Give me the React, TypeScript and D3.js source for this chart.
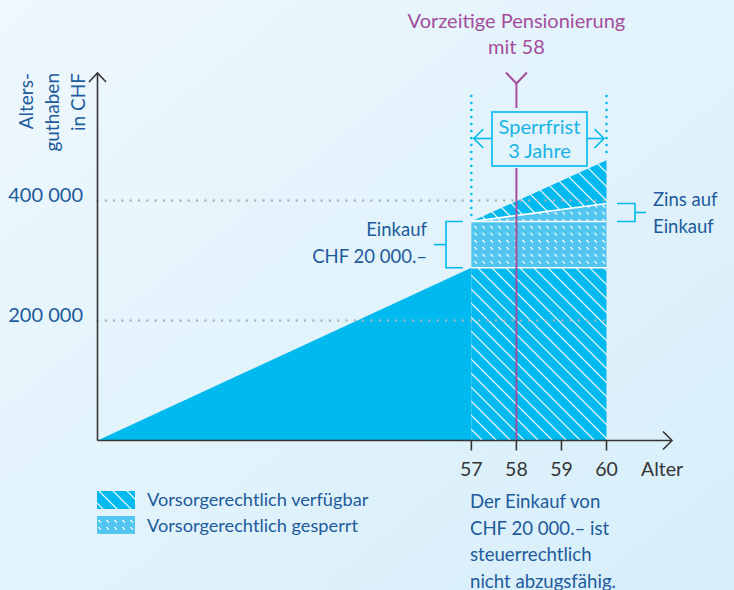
import React from "react";
import * as d3 from "d3";

// ---- data ----
const ageTicks = [57, 58, 59, 60];
const valueTicks = [200000, 400000];
const rampAges = [48.7, 57];
const rampValues = [0, 288000];
const lockAges = [57, 60];
const availableBase = [288000, 288000];
const purchaseTop = [365000, 365000];
const purchaseInterestTop = [365000, 395000];
const totalTop = [365000, 467000];
const retirementAge = 58;
const lockStart = 57;
const lockEnd = 60;
const titleLines = ["Vorzeitige Pensionierung", "mit 58"];
const yLabelLines = ["Alters-", "guthaben", "in CHF"];
const lockLabel = ["Sperrfrist", "3 Jahre"];
const purchaseLabel = ["Einkauf", "CHF 20\u00a0000.\u2013"];
const interestLabel = ["Zins auf", "Einkauf"];
const legendItems = ["Vorsorgerechtlich verfügbar", "Vorsorgerechtlich gesperrt"];
const noteLines = ["Der Einkauf von", "CHF 20\u00a0000.\u2013 ist", "steuerrechtlich", "nicht abzugsfähig."];
const xAxisTitle = "Alter";

const W = 734;
const H = 590;
const FONT = "Lato, 'Noto Sans', sans-serif";
const BLUE = "#1d5b9c";
const CYAN = "#00b9ee";
const CYAN_LIGHT = "#52c6f1";
const MAGENTA = "#a34d9c";
const DARK = "#353535";
const GRAY_DOT = "#a9b2b8";

const x = d3.scaleLinear().domain([rampAges[0], 60]).range([97.5, 606.5]);
const y = d3.scaleLinear().domain([0, 400000]).range([440.5, 200.5]);
const fmt = d3.formatLocale({ thousands: "\u00a0", grouping: [3], decimal: ".", currency: ["", ""] }).format(",");

export default function App() {
  const ramp = d3
    .area<number>()
    .x((_, i) => x(rampAges[i]))
    .y0(() => y(0))
    .y1((d) => y(d))(rampValues);
  const band = (lo: number[], hi: number[]) =>
    d3
      .area<number>()
      .x((_, i) => x(lockAges[i]))
      .y0((_, i) => y(lo[i]))
      .y1((_, i) => y(hi[i]))(lockAges.map((_, i) => i));
  const zeros = lockAges.map(() => 0);
  const baseRect = band(zeros, availableBase);
  const purchase = band(availableBase, purchaseTop);
  const interest = band(purchaseTop, purchaseInterestTop);
  const growth = band(purchaseInterestTop, totalTop);
  const line = d3
    .line<number>()
    .x((_, i) => x(lockAges[i]))
    .y((d) => y(d));

  const x0 = x(rampAges[0]);
  const xAxisEnd = 672;
  const yAxisTop = 73;
  const xs = x(lockStart);
  const xe = x(lockEnd);
  const xr = x(retirementAge);
  const boxL = 492;
  const boxR = 587;
  const boxT = 112;
  const boxB = 166;
  const arrowY = 138.5;

  const pTop = y(purchaseTop[0]);
  const pBot = y(availableBase[0]);
  const iTop = y(purchaseInterestTop[1]);
  const iBot = y(purchaseTop[1]);

  return (
    <div style={{ position: "absolute", left: 0, top: 0 }}>
      <svg width={W} height={H} style={{ display: "block" }} fontFamily={FONT}>
        <defs>
          <linearGradient id="bg" x1="0" y1="0" x2="1" y2="1">
            <stop offset="0" stopColor="#eef8fd" />
            <stop offset="1" stopColor="#d6eefa" />
          </linearGradient>
          <pattern id="avail" patternUnits="userSpaceOnUse" width="14" height="14">
            <rect width="14" height="14" fill={CYAN} />
            <path d="M0,0L14,14M-2,12L2,16M12,-2L16,2" stroke="#fff" strokeWidth="1.2" />
          </pattern>
          <pattern id="locked" patternUnits="userSpaceOnUse" width="8" height="7">
            <rect width="8" height="7" fill={CYAN_LIGHT} />
            <path d="M2.5,2L5,4.6" stroke="#fff" strokeWidth="1.1" />
          </pattern>
        </defs>
        <rect width={W} height={H} fill="url(#bg)" />

        {/* areas */}
        <path d={ramp ?? ""} fill={CYAN} />
        <path d={baseRect ?? ""} fill="url(#avail)" />
        <path d={purchase ?? ""} fill="url(#locked)" />
        <path d={interest ?? ""} fill="url(#locked)" />
        <path d={growth ?? ""} fill="url(#avail)" />
        {[availableBase, purchaseTop, purchaseInterestTop].map((s, i) => (
          <path key={i} d={line(s) ?? ""} stroke="#fff" strokeWidth={1.6} fill="none" />
        ))}

        {/* gridlines */}
        {valueTicks.map((v) => (
          <line
            key={v}
            x1={x0}
            x2={xe}
            y1={y(v)}
            y2={y(v)}
            stroke={GRAY_DOT}
            strokeWidth={2.4}
            strokeLinecap="round"
            strokeDasharray="0 8.3"
          />
        ))}
        {valueTicks.map((v) => (
          <text key={v} x={83} y={y(v) + 1} textAnchor="end" fontSize={20} fill={BLUE}>
            {fmt(v)}
          </text>
        ))}

        {/* lock period dotted verticals */}
        <line x1={xs} x2={xs} y1={96} y2={pTop - 4} stroke={CYAN} strokeWidth={2.6} strokeLinecap="round" strokeDasharray="0 7" />
        <line x1={xe} x2={xe} y1={96} y2={y(totalTop[1]) - 4} stroke={CYAN} strokeWidth={2.6} strokeLinecap="round" strokeDasharray="0 7" />

        {/* retirement line */}
        <g stroke={MAGENTA} strokeWidth={2} fill="none">
          <path d={`M${xr - 10.5},72.5L${xr},83.5L${xr + 10.5},72.5`} />
          <line x1={xr} x2={xr} y1={83.5} y2={108} />
          <line x1={xr} x2={xr} y1={168} y2={y(0)} />
        </g>
        {titleLines.map((t, i) => (
          <text key={t} x={xr} y={28 + i * 26} textAnchor="middle" fontSize={20} fill={MAGENTA}>
            {t}
          </text>
        ))}

        {/* Sperrfrist box */}
        <g stroke={CYAN} strokeWidth={1.6} fill="none">
          <rect x={boxL} y={boxT} width={boxR - boxL} height={boxB - boxT} />
          <line x1={xs + 2.5} x2={boxL} y1={arrowY} y2={arrowY} />
          <line x1={boxR} x2={xe - 2.5} y1={arrowY} y2={arrowY} />
          <path d={`M${xs + 12},${arrowY - 9.5}L${xs + 2.5},${arrowY}L${xs + 12},${arrowY + 9.5}`} />
          <path d={`M${xe - 12},${arrowY - 9.5}L${xe - 2.5},${arrowY}L${xe - 12},${arrowY + 9.5}`} />
        </g>
        {lockLabel.map((t, i) => (
          <text key={t} x={(boxL + boxR) / 2} y={134 + i * 23.5} textAnchor="middle" fontSize={20} fill="#19b4e6">
            {t}
          </text>
        ))}

        {/* purchase bracket */}
        <g stroke={CYAN} strokeWidth={1.6} fill="none">
          <path d={`M${xs - 8.5},${pTop}H446V${pBot}H${xs - 8.5}`} />
          <line x1={434} x2={446} y1={(pTop + pBot) / 2} y2={(pTop + pBot) / 2} />
          <path d={`M617,${iTop}H635V${iBot}H617`} />
          <line x1={635} x2={646} y1={(iTop + iBot) / 2} y2={(iTop + iBot) / 2} />
        </g>
        {purchaseLabel.map((t, i) => (
          <text key={t} x={427} y={235.5 + i * 27.5} textAnchor="end" fontSize={18.5} fill={BLUE}>
            {t}
          </text>
        ))}
        {interestLabel.map((t, i) => (
          <text key={t} x={653} y={206 + i * 27} fontSize={18.5} fill={BLUE}>
            {t}
          </text>
        ))}

        {/* axes */}
        <g stroke={DARK} strokeWidth={1.6} fill="none">
          <line x1={x0} x2={x0} y1={y(0)} y2={yAxisTop} />
          <path d={`M${x0 - 8.5},${yAxisTop + 9}L${x0},${yAxisTop}L${x0 + 8.5},${yAxisTop + 9}`} />
          <line x1={x0} x2={xAxisEnd} y1={y(0)} y2={y(0)} />
          <path d={`M${xAxisEnd - 9},${y(0) - 9}L${xAxisEnd},${y(0)}L${xAxisEnd - 9},${y(0) + 9}`} />
          {ageTicks.map((a) => (
            <line key={a} x1={x(a)} x2={x(a)} y1={y(0)} y2={y(0) + 10} />
          ))}
        </g>
        {ageTicks.map((a) => (
          <text key={a} x={x(a)} y={476} textAnchor="middle" fontSize={19.5} fill={DARK}>
            {a}
          </text>
        ))}
        <text x={641} y={476} fontSize={19.5} fill={DARK}>
          {xAxisTitle}
        </text>
        {yLabelLines.map((t, i) => (
          <text
            key={t}
            transform={`translate(${33 + i * 26},73) rotate(-90)`}
            textAnchor="end"
            fontSize={19}
            fill={BLUE}
          >
            {t}
          </text>
        ))}

        {/* legend */}
        <rect x={97} y={491} width={38} height={18} fill="url(#avail)" />
        <rect x={97} y={516} width={38} height={18} fill="url(#locked)" />
        {legendItems.map((t, i) => (
          <text key={t} x={147} y={506 + i * 26} fontSize={18.2} fill={BLUE}>
            {t}
          </text>
        ))}
        {noteLines.map((t, i) => (
          <text key={t} x={470} y={508 + i * 26.5} fontSize={18.6} fill={BLUE}>
            {t}
          </text>
        ))}
      </svg>
    </div>
  );
}
